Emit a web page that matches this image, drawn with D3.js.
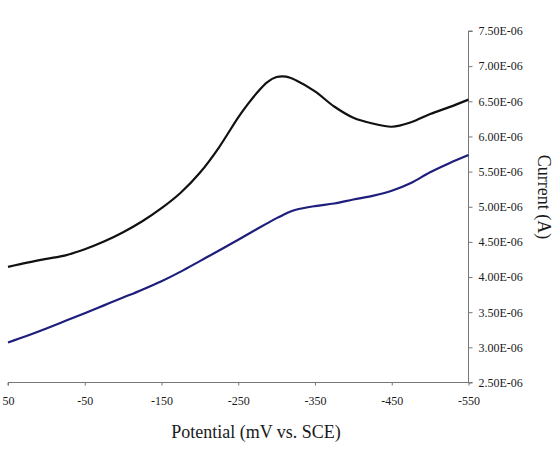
<!DOCTYPE html>
<html>
<head>
<meta charset="utf-8">
<script src="https://cdn.jsdelivr.net/npm/d3@7"></script>
<style>
  html, body { margin: 0; padding: 0; background: #fff; }
  svg { display: block; }
  text { font-family: "Liberation Serif", "Times New Roman", serif; fill: #1a1a1a; }
</style>
</head>
<body>
<svg id="chart" width="560" height="458"></svg>
<script>
// Potential (mV vs. SCE)
const potential = [50, 25, 0, -25, -50, -75, -100, -125, -150, -175, -200, -225, -250, -262.5,
  -275, -287.5, -300, -312.5, -325, -350, -375, -400, -425, -450, -475, -500, -525, -550];
// Current (A), upper black curve (in units of 1e-6)
const currentBlack = [4.145, 4.205, 4.259, 4.309, 4.395, 4.504, 4.637, 4.793, 4.979, 5.199, 5.483, 5.846, 6.272, 6.46,
  6.628, 6.77, 6.845, 6.85, 6.80, 6.641, 6.426, 6.266, 6.184, 6.138, 6.201, 6.318, 6.417, 6.524];
// Current (A), lower blue curve (in units of 1e-6)
const currentBlue = [3.070, 3.165, 3.269, 3.377, 3.486, 3.597, 3.708, 3.820, 3.940, 4.077, 4.227, 4.377, 4.531, 4.609,
  4.687, 4.763, 4.838, 4.905, 4.957, 5.010, 5.046, 5.103, 5.155, 5.228, 5.338, 5.491, 5.620, 5.736];

const xTicks = [50, -50, -150, -250, -350, -450, -550];
const yTicks = [2.5, 3.0, 3.5, 4.0, 4.5, 5.0, 5.5, 6.0, 6.5, 7.0, 7.5];
const yTickLabels = ["2.50E-06", "3.00E-06", "3.50E-06", "4.00E-06", "4.50E-06", "5.00E-06",
  "5.50E-06", "6.00E-06", "6.50E-06", "7.00E-06", "7.50E-06"];

const svg = d3.select("#chart");
const mLeft = 8, mRight = 468.5, mTop = 31, mBottom = 382.5;

const x = d3.scaleLinear().domain([50, -550]).range([mLeft, mRight]);
const y = d3.scaleLinear().domain([2.5, 7.5]).range([mBottom, mTop]);

const axisColor = "#777";

// X axis
const xAxis = svg.append("g").attr("transform", `translate(0,${mBottom})`)
  .call(d3.axisBottom(x).tickValues(xTicks).tickSize(3).tickPadding(11).tickFormat(d => d));
xAxis.select(".domain").attr("stroke", axisColor).attr("d", `M${mLeft},3V0H${mRight}`);
xAxis.selectAll(".tick line").attr("stroke", axisColor);
xAxis.selectAll(".tick text").attr("font-family", "Liberation Serif").attr("font-size", 12).attr("fill", "#1a1a1a");

// Y axis (right side)
const yAxis = svg.append("g").attr("transform", `translate(${mRight},0)`)
  .call(d3.axisRight(y).tickValues(yTicks).tickSize(4).tickPadding(6)
    .tickFormat((d, i) => yTickLabels[i]));
yAxis.select(".domain").attr("stroke", axisColor).attr("d", `M4,${mTop}H0V${mBottom}H4`);
yAxis.selectAll(".tick line").attr("stroke", axisColor);
yAxis.selectAll(".tick text").attr("font-family", "Liberation Serif").attr("font-size", 12).attr("fill", "#1a1a1a");

// Lines
const line = vals => d3.line()
  .x((d, i) => x(potential[i]))
  .y(d => y(d))
  .curve(d3.curveCatmullRom.alpha(0.5))(vals);

svg.append("path").attr("d", line(currentBlue))
  .attr("fill", "none").attr("stroke", "#1e1e7c").attr("stroke-width", 2.2);
svg.append("path").attr("d", line(currentBlack))
  .attr("fill", "none").attr("stroke", "#111").attr("stroke-width", 2.2);

// Axis titles
svg.append("text").attr("x", 256).attr("y", 438).attr("text-anchor", "middle")
  .attr("font-size", 18).text("Potential (mV vs. SCE)");
svg.append("text").attr("transform", "translate(544,197) rotate(90)")
  .attr("text-anchor", "middle").attr("dominant-baseline", "central")
  .attr("font-size", 18).text("Current (A)");
</script>
</body>
</html>
